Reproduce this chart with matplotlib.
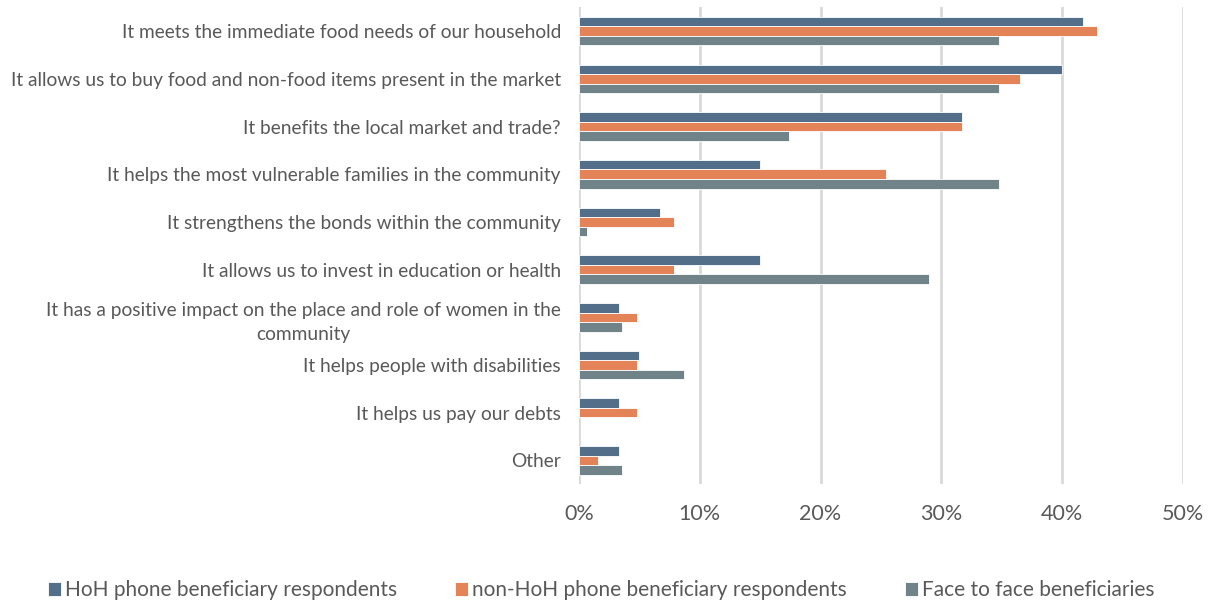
import matplotlib
matplotlib.use("Agg")
import matplotlib.pyplot as plt
import numpy as np

plt.rcParams['font.family'] = ['Lato', 'DejaVu Sans']

categories = [
    "It meets the immediate food needs of our household",
    "It allows us to buy food and non-food items present in the market",
    "It benefits the local market and trade?",
    "It helps the most vulnerable families in the community",
    "It strengthens the bonds within the community",
    "It allows us to invest in education or health",
    "It has a positive impact on the place and role of women in the\ncommunity",
    "It helps people with disabilities",
    "It helps us pay our debts",
    "Other",
]
series_names = [
    "HoH phone beneficiary respondents",
    "non-HoH phone beneficiary respondents",
    "Face to face beneficiaries",
]
hoh = [41.7, 40.0, 31.7, 15.0, 6.7, 15.0, 3.3, 5.0, 3.3, 3.3]
non_hoh = [42.9, 36.5, 31.7, 25.4, 7.9, 7.9, 4.8, 4.8, 4.8, 1.6]
face = [34.8, 34.8, 17.4, 34.8, 0.7, 29.0, 3.6, 8.7, 0.0, 3.6]
colors = ["#536e88", "#e48258", "#6f8389"]

fig = plt.figure(figsize=(12.1, 6.06), dpi=100)
ax = fig.add_axes([0.4785, 0.201, 0.499, 0.787])

y = np.arange(len(categories))
h = 0.2
for k, (vals, name, c) in enumerate(zip([hoh, non_hoh, face], series_names, colors)):
    v = np.array(vals) / 100
    ax.barh(y + (k - 1) * h, v, height=h, color=c,
            edgecolor=["white" if x > 0 else "none" for x in v],
            linewidth=0.6, label=name, zorder=3)

ax.set_ylim(len(categories) - 0.5, -0.5)
ax.set_xlim(0, 0.5)
ticks = np.arange(0, 0.51, 0.1)
ax.set_xticks(ticks)
ax.set_xticklabels([f"{int(round(t * 100))}%" for t in ticks])
ax.set_yticks(y)
ax.set_yticklabels(categories, multialignment="center", linespacing=1.5)
ax.grid(axis="x", color="#d9d9d9", linewidth=2, zorder=0)
for s in ax.spines.values():
    s.set_visible(False)
ax.tick_params(axis="y", length=0, pad=13, labelsize=13.8, labelcolor="#595959")
ax.tick_params(axis="x", length=0, pad=14, labelsize=15.5, labelcolor="#595959")

leg = fig.legend(loc="center", bbox_to_anchor=(0.497, 0.026), ncol=3, frameon=False,
                 fontsize=15, handlelength=0.6, handleheight=0.7,
                 handletextpad=0.2, columnspacing=2.8)
for t in leg.get_texts():
    t.set_color("#595959")

fig.savefig("out.png", dpi=100)
